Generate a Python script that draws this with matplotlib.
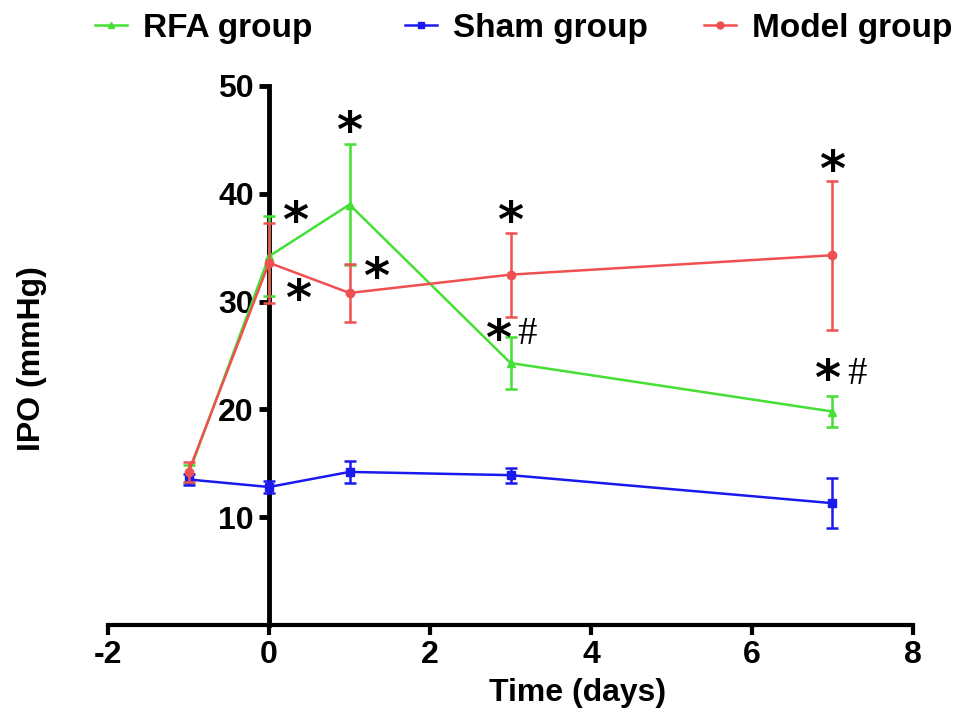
import matplotlib.pyplot as plt
from matplotlib.lines import Line2D
import numpy as np

plt.rcParams['font.family'] = ['Liberation Sans', 'DejaVu Sans']
plt.rcParams['font.weight'] = 'bold'
plt.rcParams['axes.unicode_minus'] = False

# IPO over time for each group (mean and error)
days = [-1, 0, 1, 3, 7]
rfa = [14.0, 34.2, 39.0, 24.3, 19.8]
rfa_err = [0.8, 3.7, 5.6, 2.4, 1.4]
sham = [13.5, 12.8, 14.2, 13.9, 11.3]
sham_err = [0.5, 0.6, 1.0, 0.7, 2.3]
model = [14.2, 33.6, 30.8, 32.5, 34.3]
model_err = [0.9, 3.7, 2.7, 3.9, 6.9]

# significance marks (x, y, text)
marks = [
    (0.32, 37.3, '*'), (0.36, 30.1, '*'), (1.0, 45.6, '*'), (1.33, 32.1, '*'),
    (3.0, 37.3, '*'), (2.84, 26.3, '*'), (7.0, 42.0, '*'), (6.93, 22.6, '*'),
]
hashes = [(3.2, 26.9, '#'), (7.3, 23.2, '#')]

green = '#44e033'
blue = '#1a1aee'
red = '#f05050'

fig = plt.figure(figsize=(9.69, 7.28), dpi=100)
ax = fig.add_axes([0.1115, 0.1415, 0.8307, 0.7404])

kw = dict(linewidth=1.8, elinewidth=1.8, capsize=4, capthick=1.8, markersize=6)
ax.errorbar(days, rfa, yerr=rfa_err, color=green, marker='^', zorder=3, **kw)
ax.errorbar(days, sham, yerr=sham_err, color=blue, marker='s', zorder=4, **kw)
ax.errorbar(days, model, yerr=model_err, color=red, marker='o', zorder=5, **kw)

for x, y, t in marks:
    ax.text(x, y, t, fontsize=36, fontweight='bold', ha='center', va='center',
            family=['DejaVu Sans'])
for x, y, t in hashes:
    ax.text(x, y, t, fontsize=28, fontweight='normal', ha='center', va='center',
            family=['Liberation Serif', 'DejaVu Serif'])

ax.set_xlim(-2, 8)
ax.set_ylim(0, 50)
ax.set_xticks([-2, 0, 2, 4, 6, 8])
ax.set_yticks([10, 20, 30, 40, 50])

ax.spines['top'].set_visible(False)
ax.spines['right'].set_visible(False)
ax.spines['left'].set_position(('data', 0))
ax.spines['left'].set_linewidth(3.5)
ax.spines['bottom'].set_linewidth(3)
ax.tick_params(axis='both', length=7, width=3, labelsize=23, pad=4)
ax.tick_params(axis='y', width=3.5)

ax.set_xlabel('Time (days)', fontsize=23, fontweight='bold')
ax.set_ylabel('IPO (mmHg)', fontsize=23, fontweight='bold')
ax.xaxis.set_label_coords(0.583, -0.098)
ax.yaxis.set_label_coords(-0.076, 0.494)

# legend: one entry per group, spread across the top
entries = [('RFA group', green, '^', 95), ('Sham group', blue, 's', 405), ('Model group', red, 'o', 704)]
for name, col, mk, px in entries:
    h = Line2D([], [], color=col, marker=mk, markersize=5, linewidth=1.8)
    fig.legend(handles=[h], labels=[name], loc='center left',
               bbox_to_anchor=(px / 969, 1 - 28 / 728), frameon=False, fontsize=24,
               handlelength=0.96, handletextpad=0.48, borderpad=0, borderaxespad=0)

fig.savefig('out.png', dpi=100)
